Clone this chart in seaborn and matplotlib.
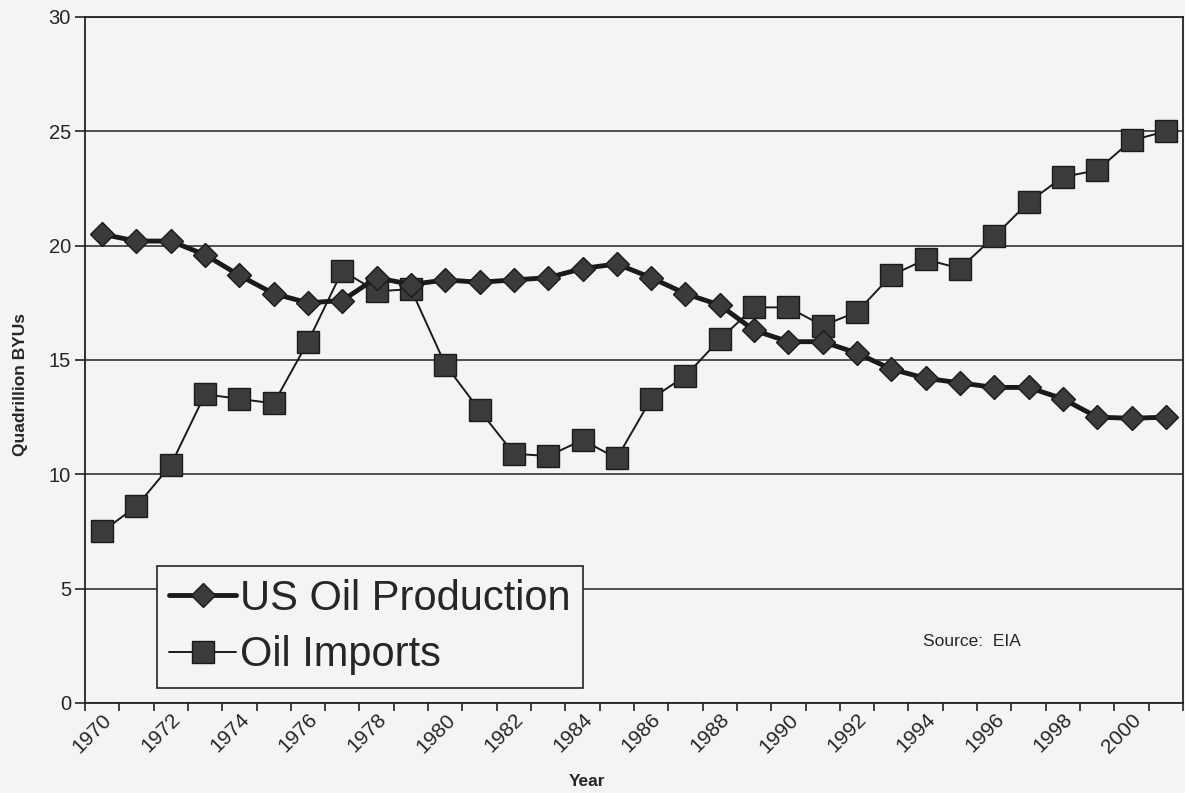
import pandas as pd
import seaborn as sns
import matplotlib.pyplot as plt
import numpy as np

years = list(range(1970, 2002))
production = [20.5, 20.2, 20.2, 19.6, 18.7, 17.9, 17.5, 17.6, 18.6, 18.3,
              18.5, 18.4, 18.5, 18.6, 19.0, 19.2, 18.6, 17.9, 17.4, 16.3,
              15.8, 15.8, 15.3, 14.6, 14.2, 14.0, 13.8, 13.8, 13.3, 12.5,
              12.45, 12.5]
imports = [7.5, 8.6, 10.4, 13.5, 13.3, 13.1, 15.8, 18.9, 18.0, 18.1,
           14.8, 12.8, 10.9, 10.8, 11.5, 10.7, 13.3, 14.3, 15.9, 17.3,
           17.3, 16.5, 17.1, 18.7, 19.4, 19.0, 20.4, 21.9, 23.0, 23.3,
           24.6, 25.0]
year_labels = [str(y) for y in years[::2]]

df = pd.DataFrame({"idx": np.arange(len(years)), "year": years,
                   "prod": production, "imp": imports})

sns.set_style("white")
plt.rcParams['font.family'] = ['Liberation Sans', 'DejaVu Sans']

bg = '#f4f4f2'
fig, ax = plt.subplots(figsize=(11.85, 7.93), dpi=100)
fig.patch.set_facecolor(bg)
ax.set_facecolor(bg)
plt.subplots_adjust(left=0.0717, right=0.9983, top=0.9786, bottom=0.1135)

ax.yaxis.grid(True, color='#222222', linewidth=1.1)
ax.set_axisbelow(True)

sns.lineplot(data=df, x="idx", y="imp", ax=ax, color='#1a1a1a', linewidth=1.4,
             marker='s', markersize=16, markerfacecolor='#3b3b3b',
             markeredgecolor='#1a1a1a', markeredgewidth=1, label='Oil Imports')
sns.lineplot(data=df, x="idx", y="prod", ax=ax, color='#1a1a1a', linewidth=3.5,
             marker='D', markersize=12, markerfacecolor='#3b3b3b',
             markeredgecolor='#1a1a1a', markeredgewidth=1, label='US Oil Production')

ax.set_xlim(-0.5, len(years) - 0.5)
ax.set_ylim(0, 30)
ax.set_yticks([0, 5, 10, 15, 20, 25, 30])
ax.tick_params(axis='y', labelsize=14.5, length=7, width=1.2, color='#222222',
               direction='out', left=True, pad=3)

ax.set_xticks(np.arange(0, len(years), 2))
ax.set_xticklabels(year_labels, rotation=45, ha='right', rotation_mode='anchor')
ax.set_xticks(np.arange(-0.5, len(years), 1), minor=True)
ax.tick_params(axis='x', which='major', length=0, labelsize=15, pad=5)
ax.tick_params(axis='x', which='minor', length=6, width=1.2, color='#222222',
               direction='out', bottom=True)

for s in ax.spines.values():
    s.set_color('#222222')
    s.set_linewidth(1.3)

ax.set_xlabel('Year', fontsize=12.5, fontweight='bold')
ax.set_ylabel('Quadrillion BYUs', fontsize=12.5, fontweight='bold')
ax.xaxis.set_label_coords(0.457, -0.104)
ax.yaxis.set_label_coords(-0.052, 0.4636)

handles, labels = ax.get_legend_handles_labels()
leg = ax.legend(handles[::-1], labels[::-1], loc='lower left',
                bbox_to_anchor=(0.0656, 0.022), borderaxespad=0,
                fontsize=30, frameon=True, fancybox=False, framealpha=1,
                edgecolor='#222222', facecolor=bg, handlelength=1.6,
                handletextpad=0.1, borderpad=0.3, labelspacing=0.4,
                numpoints=1)
leg.get_frame().set_linewidth(1.2)

ax.text(0.763, 0.083, 'Source:  EIA', transform=ax.transAxes, fontsize=12.5)

plt.savefig('out.png', dpi=100, facecolor=bg)
